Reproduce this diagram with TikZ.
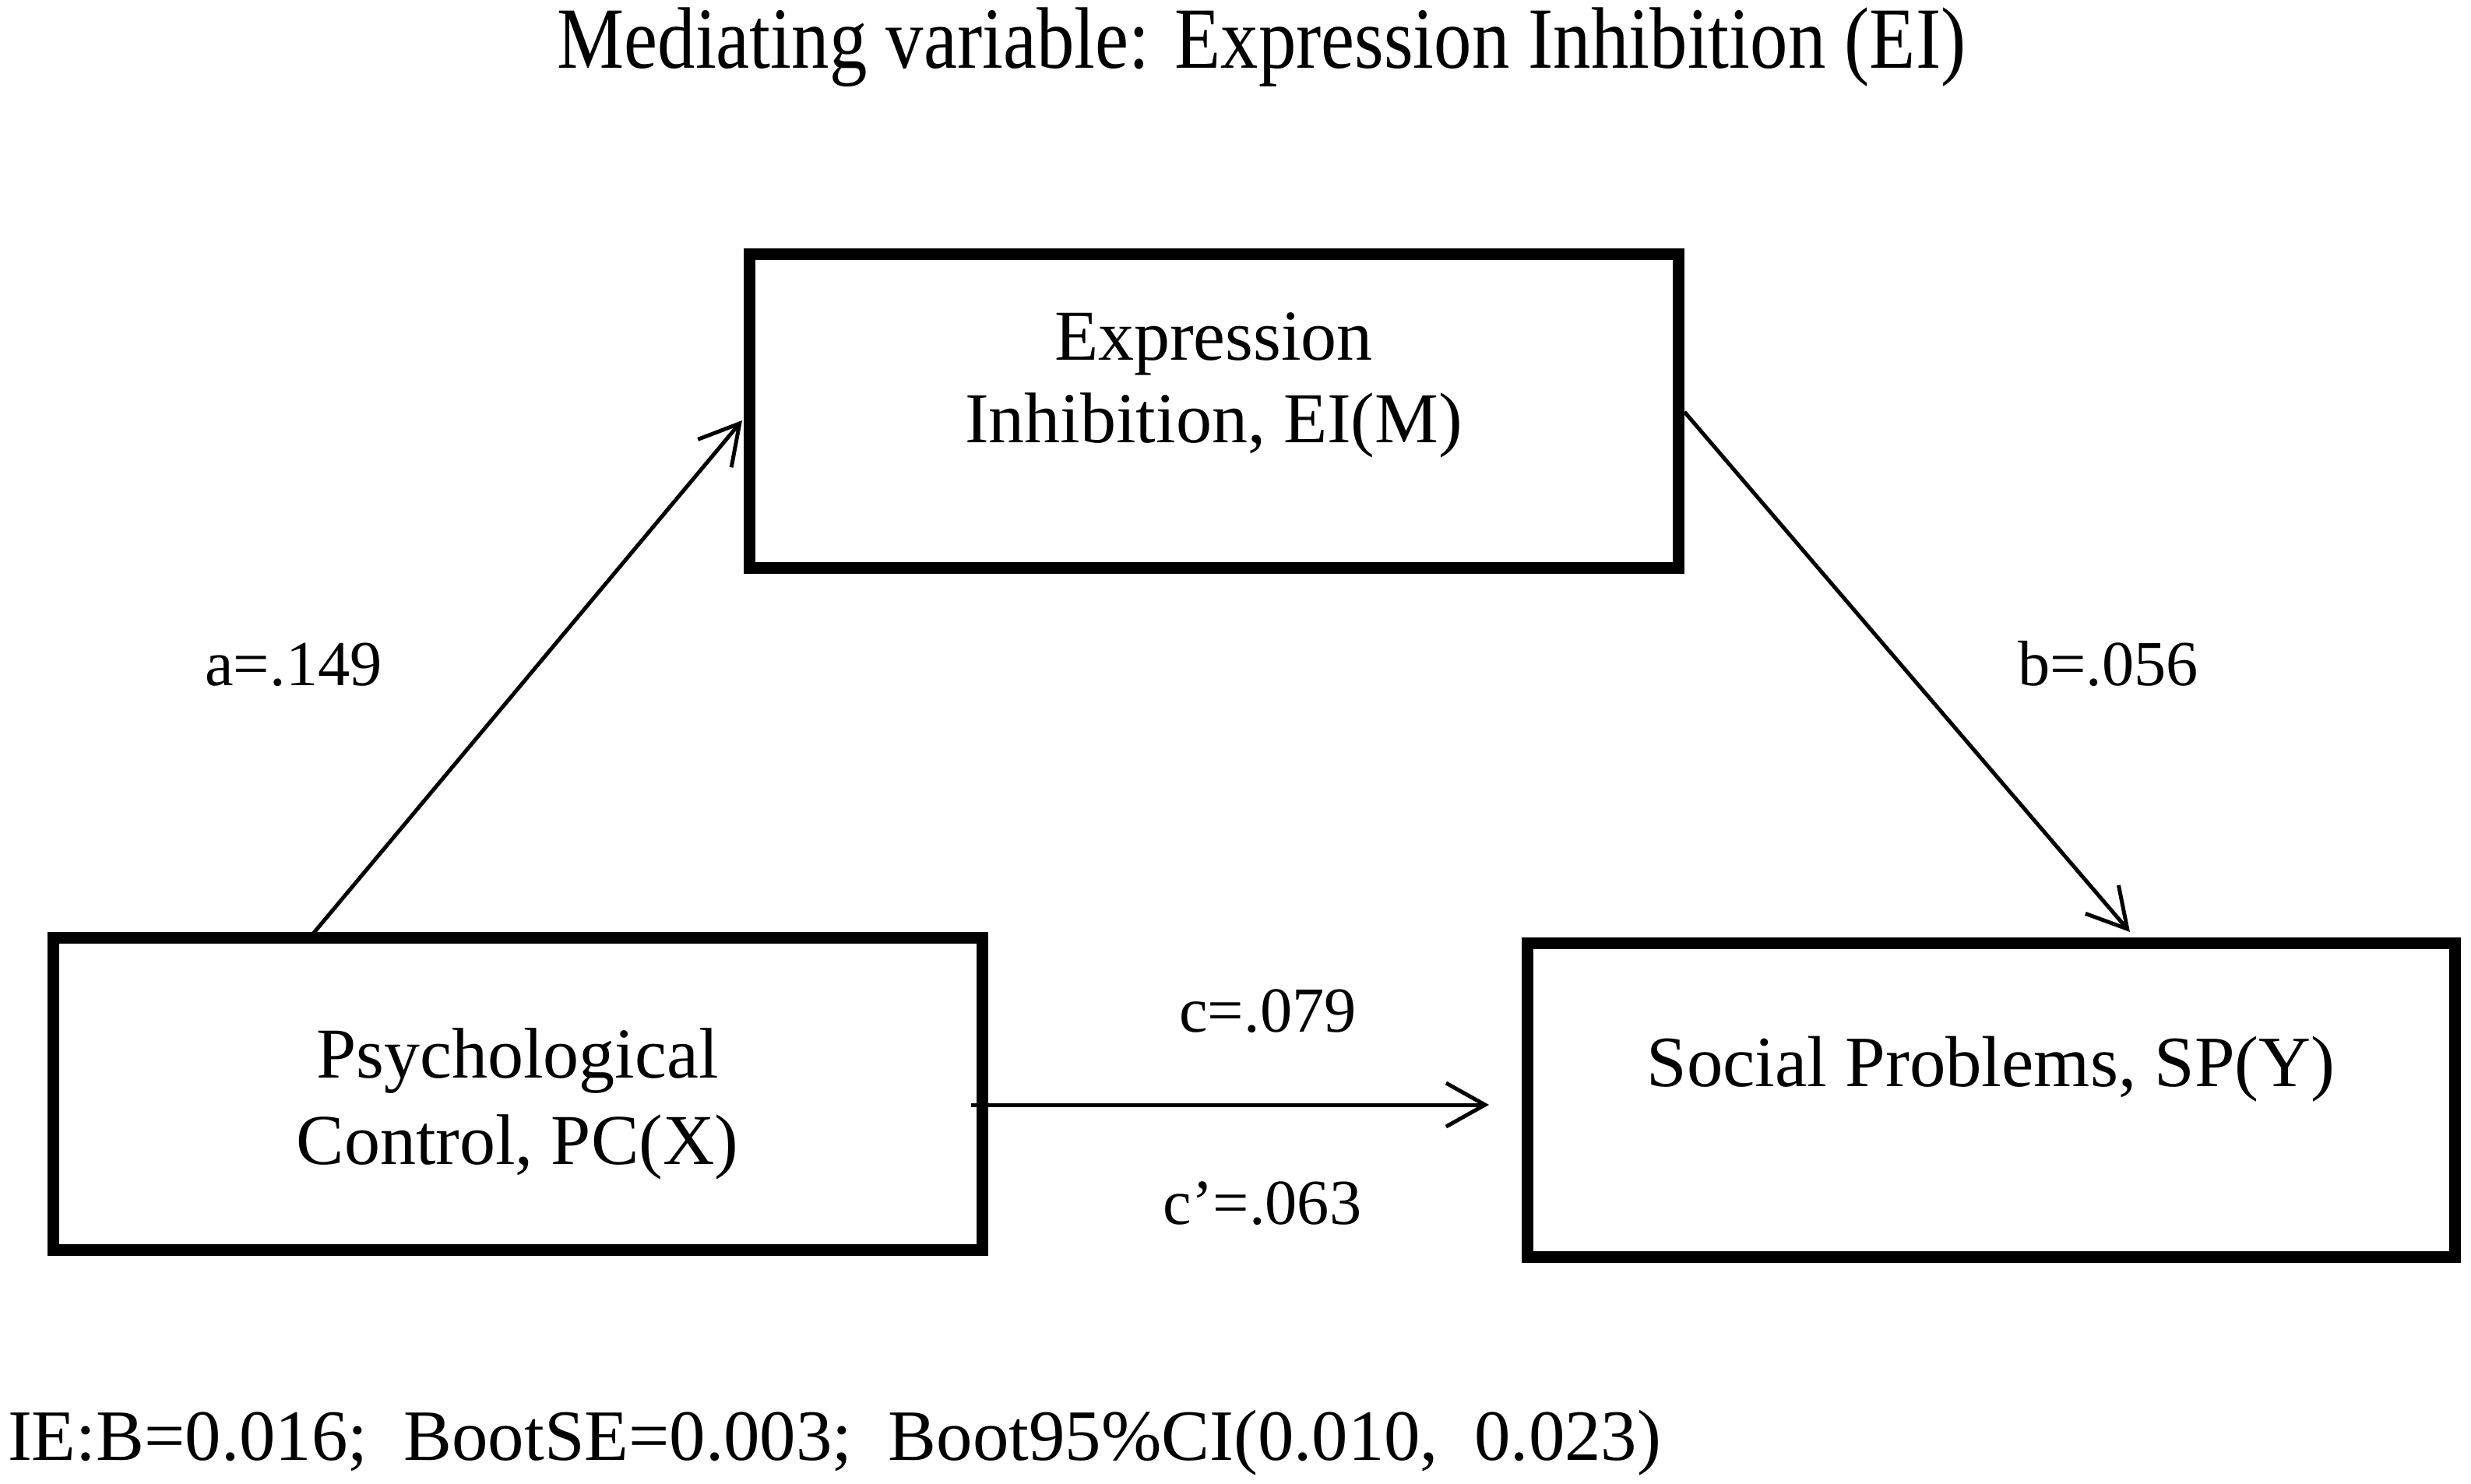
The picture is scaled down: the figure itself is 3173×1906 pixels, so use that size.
\documentclass[tikz,border=0pt]{standalone}
\usepackage{fontspec}
\setmainfont{Liberation Serif}
\usetikzlibrary{arrows.meta,calc}
\newcommand{\sizeTitle}{\fontsize{28pt}{34pt}\selectfont}
\newcommand{\sizeM}{\fontsize{23pt}{27pt}\selectfont}
\newcommand{\sizeX}{\fontsize{23pt}{27pt}\selectfont}
\newcommand{\sizeY}{\fontsize{23.2pt}{27pt}\selectfont}
\newcommand{\sizeLab}{\fontsize{20.6pt}{24pt}\selectfont}
\newcommand{\sizeBot}{\fontsize{23.2pt}{28pt}\selectfont}
\begin{document}
\begin{tikzpicture}[x=0.25pt,y=-0.25pt,
  box/.style={draw, line width=3.75pt, rectangle, inner sep=0pt, outer sep=0pt},
  txt/.style={inner sep=0pt, outer sep=0pt, anchor=base},
  arr/.style={line width=1.25pt, -{Straight Barb[length=12.5pt,width=14pt]}}]
\fill[white] (0,0) rectangle (3173,1906);
\useasboundingbox (0,0) rectangle (3173,1906);
% boxes
\node[box, minimum width=298.25pt, minimum height=100.75pt] (M) at (1558.5,527.5) {};
\node[box, minimum width=298.25pt, minimum height=100.25pt] (X) at (664.5,1404.5) {};
\node[box, minimum width=297.75pt, minimum height=100.75pt] (Y) at (2556.5,1412.5) {};
% title
\node[txt, font=\sizeTitle] (title) at (1620,87) {\scalebox{0.864}[1]{Mediating variable: Expression Inhibition (EI)}};
% box texts
\node[txt, font=\sizeM] (mt1) at (1558.5,462) {Expression};
\node[txt, font=\sizeM] (mt2) at (1558.5,568) {Inhibition, EI(M)};
\node[txt, font=\sizeX] (xt1) at (664.5,1384) {Psychological};
\node[txt, font=\sizeX] (xt2) at (664.5,1495) {Control, PC(X)};
\node[txt, font=\sizeY] (yt) at (2556.5,1395) {Social Problems, SP(Y)};
% path labels
\node[txt, font=\sizeLab] (la) at (377,880) {a=.149};
\node[txt, font=\sizeLab] (lb) at (2707,880) {b=.056};
\node[txt, font=\sizeLab] (lc) at (1628,1325) {c=.079};
\node[txt, font=\sizeLab] (lc2) at (1621,1572) {c’=.063};
% bottom line
\node[txt, font=\sizeBot, anchor=base west] (ie) at (10,1875) {IE:B=0.016;\ \ BootSE=0.003;\ \ Boot95\%CI(0.010,\ \ 0.023)};
% connectors
\draw[arr] ($(X.north west)+(325,6)$) -- ($(M.west)+(-9,12.5)$);
\draw[arr] ($(M.east)+(8,1.5)$) -- ($(Y.north west)+(774,-14)$);
\draw[arr] ($(X.east)+(-14,14.5)$) -- ($(Y.west)+(-49,6.5)$);
\end{tikzpicture}
\end{document}
